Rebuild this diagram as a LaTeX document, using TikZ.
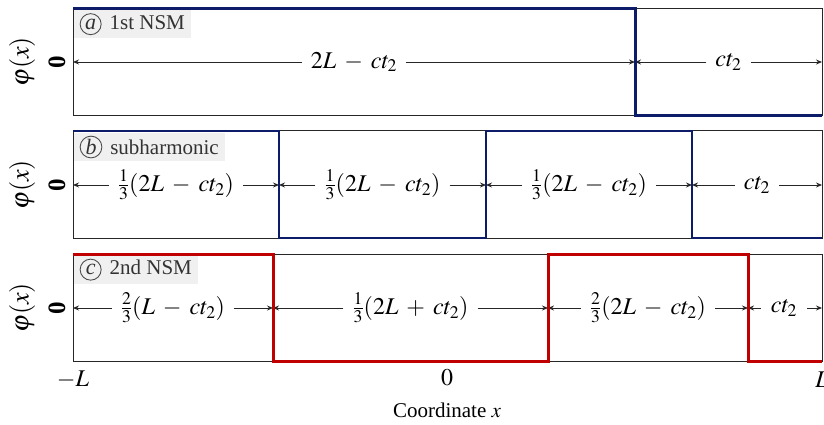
\documentclass[tikz,border=0pt]{standalone}
\usepackage{mathptmx}
\usepackage{fontspec}
\setmainfont{Liberation Serif}
\usetikzlibrary{arrows.meta}
\definecolor{navy}{RGB}{12,28,104}
\definecolor{dred}{RGB}{192,0,0}
\medmuskip=6mu plus 2mu minus 2mu
\newcommand\circletter[1]{\tikz[baseline=(cl.base)]\node[circle,draw=black!70,line width=0.9pt,inner sep=1pt,minimum size=21pt,font=\fontsize{22}{24}\selectfont](cl){\itshape #1};}
\newcommand\dimseg[5]{%
  \coordinate (#1l) at (#3,#2);
  \coordinate (#1r) at (#4,#2);
  \node[seglabel] (#1) at ({(#3+#4)/2},#2) {#5};
  \draw[dimarrow] (#1.west) -- (#1l);
  \draw[dimarrow] (#1.east) -- (#1r);
}
\begin{document}
\begin{tikzpicture}[x=1pt,y=-1pt,
  panel/.style={draw=black!85,line width=1pt},
  seglabel/.style={inner xsep=9pt,inner ysep=0pt,font=\fontsize{24}{28}\selectfont},
  dimarrow/.style={draw=black!85,line width=0.9pt,-{Stealth[length=6pt,width=5pt]}},
  tag/.style={anchor=north west,fill=black!6,text=black!80,inner xsep=6pt,inner ysep=3pt,font=\fontsize{21}{24}\selectfont},
  ylab/.style={rotate=90,font=\fontsize{26}{30}\selectfont},
  zlab/.style={rotate=90,font=\fontsize{25}{28}\selectfont\bfseries},
  axlab/.style={font=\fontsize{24}{28}\selectfont},
  wave/.style={line width=3pt,line join=miter}]
\useasboundingbox (0,0) rectangle (824,425);

% panel (a)
\draw[panel] (73,9) rectangle (822,116);
\node[tag] (taga) at (73.5,10) {\circletter{a}\hspace{8pt}1st NSM};
\node[ylab] (phia) at (22,62) {$\varphi(x)$};
\node[zlab] (za) at (57,62) {0};
\dimseg{a1}{62}{73}{635}{$2L-ct_2$}
\dimseg{a2}{62}{635}{822}{$ct_2$}
\draw[wave,navy] (73,9) -- (635,9) -- (635,116) -- (822,116);

% panel (b)
\draw[panel] (73,131) rectangle (822,238);
\node[tag] (tagb) at (73.5,132.5) {\circletter{b}\hspace{8pt}subharmonic};
\node[ylab] (phib) at (22,185) {$\varphi(x)$};
\node[zlab] (zb) at (57,185) {0};
\dimseg{b1}{185}{73}{279}{$\frac{1}{3}(2L-ct_2)$}
\dimseg{b2}{185}{279}{486}{$\frac{1}{3}(2L-ct_2)$}
\dimseg{b3}{185}{486}{692}{$\frac{1}{3}(2L-ct_2)$}
\dimseg{b4}{185}{692}{822}{$ct_2$}
\draw[wave,navy,line width=2.2pt] (73,131) -- (279,131) -- (279,238) -- (486,238) -- (486,131) -- (692,131) -- (692,238) -- (822,238);

% panel (c)
\draw[panel] (73,254) rectangle (822,361);
\node[tag] (tagc) at (73.5,255.5) {\circletter{c}\hspace{8pt}2nd NSM};
\node[ylab] (phic) at (22,308) {$\varphi(x)$};
\node[zlab] (zc) at (57,308) {0};
\dimseg{c1}{308}{73}{273}{$\frac{2}{3}(L-ct_2)$}
\dimseg{c2}{308}{273}{548}{$\frac{1}{3}(2L+ct_2)$}
\dimseg{c3}{308}{548}{748}{$\frac{2}{3}(2L-ct_2)$}
\node[seglabel,inner xsep=0pt] (c4) at (784,308) {$ct_2$};
\coordinate (c4l) at (748,308);
\coordinate (c4r) at (822,308);
\draw[dimarrow] ([xshift=-10pt]c4.west) -- (c4l);
\draw[dimarrow] ([xshift=10pt]c4.east) -- (c4r);
\draw[wave,dred] (73,254) -- (273,254) -- (273,361) -- (548,361) -- (548,254) -- (748,254) -- (748,361) -- (822,361);

% axis
\node[axlab] (xm) at (73,380) {$-L$};
\node[axlab] (x0) at (447,378) {$0$};
\node[axlab] (xp) at (822,380) {$L$};
\node[axlab,font=\fontsize{21}{25}\selectfont] (xt) at (447,410) {Coordinate $x$};
\end{tikzpicture}
\end{document}
